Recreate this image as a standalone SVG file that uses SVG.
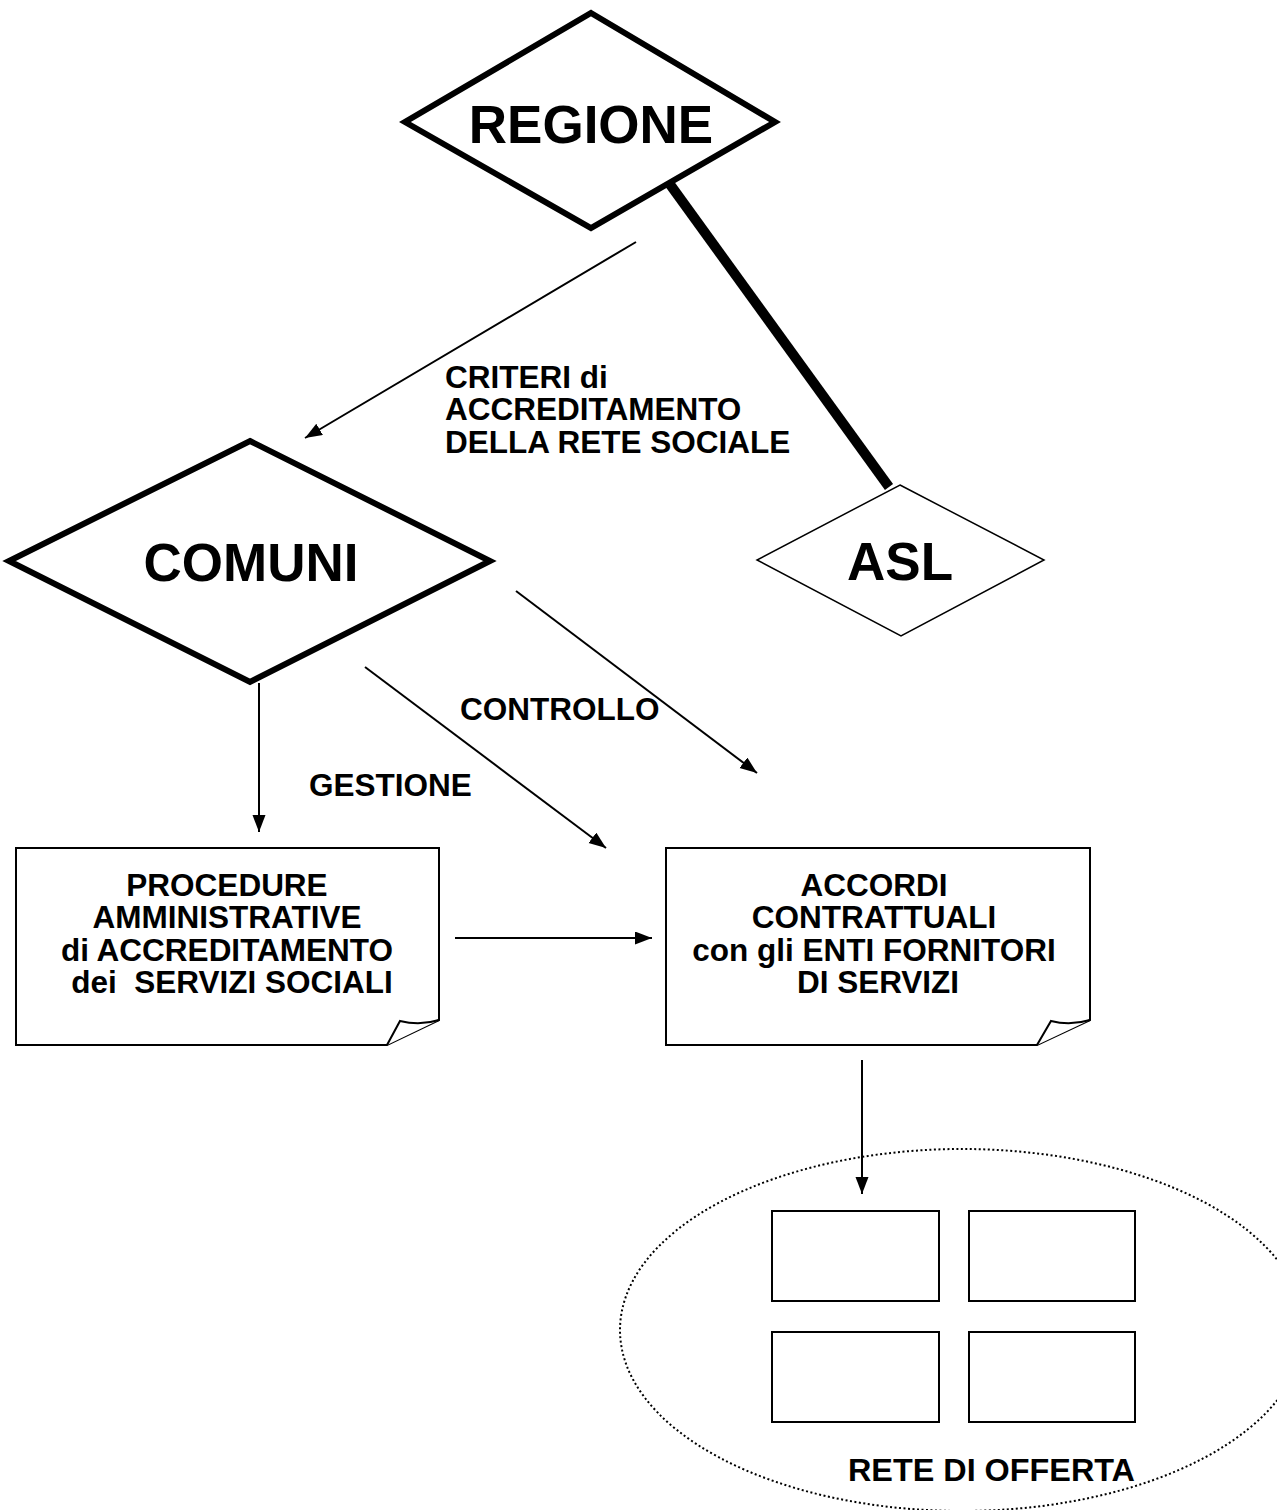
<svg xmlns="http://www.w3.org/2000/svg" width="1277" height="1510" viewBox="0 0 1277 1510">
<style>
.t{font-family:"Liberation Sans",Arial,sans-serif;font-weight:bold;fill:#000}
.big{font-size:53px}
.lbl{font-size:31.5px}
.thick{fill:#fff;stroke:#000;stroke-width:6;stroke-linejoin:miter}
.thin{fill:#fff;stroke:#000;stroke-width:1.5}
.note{fill:#fff;stroke:#000;stroke-width:2;stroke-linejoin:miter}
.conn{stroke:#000;stroke-width:2;fill:none;marker-end:url(#ah)}
.sq{fill:#fff;stroke:#000;stroke-width:2}
</style>
<defs>
<marker id="ah" markerUnits="userSpaceOnUse" markerWidth="18" markerHeight="14" refX="17" refY="6.5" orient="auto">
<path d="M0,0 L17,6.5 L0,13 Z" fill="#000"/>
</marker>
</defs>
<rect width="1277" height="1510" fill="#fff"/>

<g id="connectors">
<line x1="669" y1="183" x2="889" y2="487" stroke="#000" stroke-width="10"/>
<line class="conn" x1="636" y1="242" x2="305" y2="438"/>
<line class="conn" x1="259" y1="683" x2="259" y2="832"/>
<line class="conn" x1="365" y1="667" x2="606" y2="848"/>
<line class="conn" x1="516" y1="591" x2="757" y2="773"/>
<line class="conn" x1="455" y1="938" x2="652" y2="938"/>
<line class="conn" x1="862" y1="1060" x2="862" y2="1194"/>
</g>

<g id="regione">
<polygon class="thick" points="591,13 775,122 591,228 405,122"/>
<text class="t big" x="591" y="143" text-anchor="middle">REGIONE</text>
</g>

<g id="criteri-label">
<text class="t lbl" x="445" y="388">CRITERI di</text>
<text class="t lbl" x="445" y="420">ACCREDITAMENTO</text>
<text class="t lbl" x="445" y="453">DELLA RETE SOCIALE</text>
</g>

<g id="comuni">
<polygon class="thick" points="250,441 490,561 250,682 9,561"/>
<text class="t big" x="251" y="581" text-anchor="middle">COMUNI</text>
</g>

<g id="asl">
<polygon class="thin" points="900,485 1044,560 901,636 757,560"/>
<text class="t big" x="900" y="580" text-anchor="middle">ASL</text>
</g>

<g id="controllo-label">
<text class="t lbl" x="460" y="720">CONTROLLO</text>
</g>
<g id="gestione-label">
<text class="t lbl" x="309" y="796">GESTIONE</text>
</g>

<g id="procedure">
<path class="note" d="M16,848 H439 V1020 L387,1045 H16 Z"/>
<path class="note" d="M387,1045 L400,1021 Q420,1026 439,1020"/>
<text class="t lbl" text-anchor="middle" xml:space="preserve"><tspan x="227" y="896">PROCEDURE</tspan><tspan x="227" y="928">AMMINISTRATIVE</tspan><tspan x="227" y="961">di ACCREDITAMENTO</tspan><tspan x="232" y="993">dei  SERVIZI SOCIALI</tspan></text>
</g>

<g id="accordi">
<path class="note" d="M666,848 H1090 V1020 L1037,1045 H666 Z"/>
<path class="note" d="M1037,1045 L1051,1021 Q1070,1026 1090,1020"/>
<text class="t lbl" text-anchor="middle"><tspan x="874" y="896">ACCORDI</tspan><tspan x="874" y="928">CONTRATTUALI</tspan><tspan x="874" y="961">con gli ENTI FORNITORI</tspan><tspan x="878" y="993">DI SERVIZI</tspan></text>
</g>

<g id="rete-di-offerta">
<ellipse cx="962" cy="1330" rx="342" ry="181" fill="none" stroke="#000" stroke-width="2" stroke-dasharray="2 2.5"/>
<rect class="sq" x="772" y="1211" width="167" height="90"/>
<rect class="sq" x="969" y="1211" width="166" height="90"/>
<rect class="sq" x="772" y="1332" width="167" height="90"/>
<rect class="sq" x="969" y="1332" width="166" height="90"/>
<text class="t lbl" x="848" y="1481" textLength="287" lengthAdjust="spacingAndGlyphs">RETE DI OFFERTA</text>
</g>
</svg>
